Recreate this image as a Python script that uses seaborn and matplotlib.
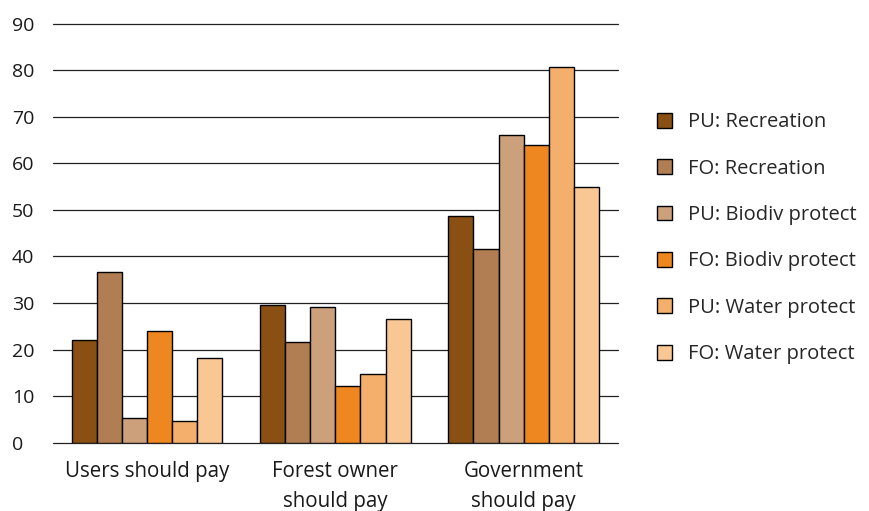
import matplotlib
matplotlib.use("Agg")
import matplotlib.pyplot as plt
import seaborn as sns
import pandas as pd

categories = ["Users should pay", "Forest owner\nshould pay", "Government\nshould pay"]
series = ["PU: Recreation", "FO: Recreation", "PU: Biodiv protect",
          "FO: Biodiv protect", "PU: Water protect", "FO: Water protect"]
pu_recreation = [22.0, 29.5, 48.6]
fo_recreation = [36.7, 21.6, 41.6]
pu_biodiv = [5.3, 29.1, 66.0]
fo_biodiv = [24.0, 12.1, 63.9]
pu_water = [4.7, 14.7, 80.6]
fo_water = [18.3, 26.6, 55.0]
colors = ["#8A4F13", "#B07E52", "#CCA07A", "#EE8720", "#F4AF6C", "#F8C794"]
yticks = [0, 10, 20, 30, 40, 50, 60, 70, 80, 90]

values = [pu_recreation, fo_recreation, pu_biodiv, fo_biodiv, pu_water, fo_water]
rows = []
for s, vals in zip(series, values):
    for c, v in zip(categories, vals):
        rows.append({"category": c, "series": s, "value": v})
df = pd.DataFrame(rows)

sns.set_style("white")
plt.rcParams["font.family"] = ["Open Sans", "DejaVu Sans"]

fig = plt.figure(figsize=(8.7, 5.11), dpi=100)
ax = fig.add_axes([0.061, 0.1336, 0.649, 0.82])

sns.barplot(data=df, x="category", y="value", hue="series", order=categories,
            hue_order=series, palette=colors, width=0.8, edgecolor="black",
            linewidth=1.0, ax=ax, errorbar=None, saturation=1)

ax.set_ylim(0, 90)
ax.set_yticks(yticks)
ax.set_yticklabels([str(t) for t in yticks], fontsize=14, color="#1a1a1a")
ax.tick_params(axis="x", labelsize=14.8, colors="#1a1a1a", length=0, pad=13)
for lbl in ax.get_xticklabels():
    lbl.set_linespacing(1.6)
for t in yticks:
    ax.axhline(t, color="#222222", linewidth=0.9, zorder=0, clip_on=False)
ax.set_axisbelow(True)
for sp in ax.spines.values():
    sp.set_visible(False)
ax.set_xlabel("")
ax.set_ylabel("")
for lbl in ax.get_yticklabels():
    lbl.set_horizontalalignment("left")
ax.tick_params(axis="y", length=0, pad=29.5)

handles, labels = ax.get_legend_handles_labels()
ax.legend(handles, labels, loc="upper left", bbox_to_anchor=(0.746, 0.796),
          bbox_transform=fig.transFigure, frameon=False, fontsize=14.5,
          handlelength=0.76, handleheight=0.76, handletextpad=0.8,
          labelspacing=1.31, borderaxespad=0)

fig.savefig("out.png", dpi=100)
